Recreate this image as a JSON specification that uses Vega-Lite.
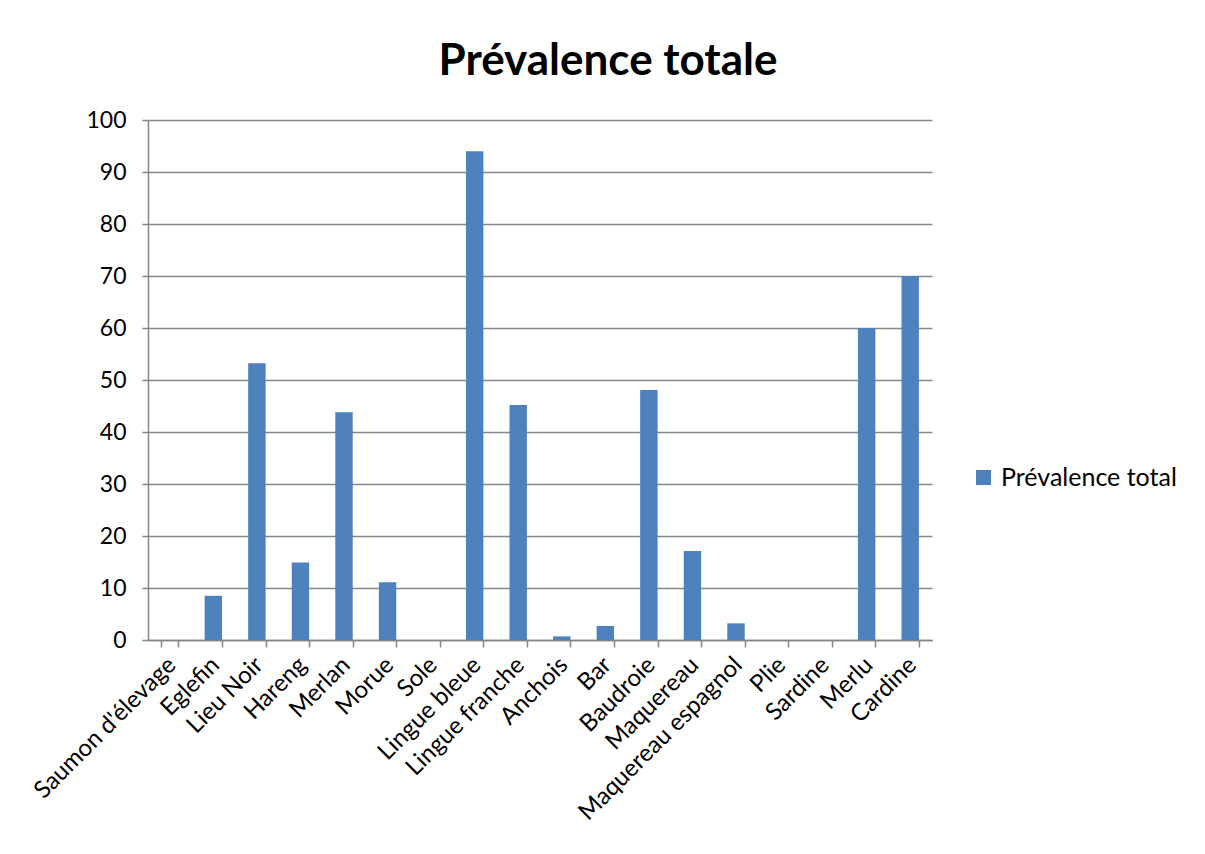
{
  "$schema": "https://vega.github.io/schema/vega-lite/v6.json",
  "width": 784,
  "height": 520,
  "autosize": {"type": "none"},
  "padding": {"left": 148, "top": 120, "right": 273, "bottom": 214},
  "background": "white",
  "title": {
    "text": "Prévalence totale",
    "font": "Lato",
    "fontSize": 44,
    "fontWeight": "bold",
    "color": "#000000",
    "anchor": "middle",
    "dx": 68,
    "offset": 25
  },
  "data": {
    "values": [
      {"espece": "Saumon d'élevage", "prevalence": 0},
      {"espece": "Eglefin", "prevalence": 8.5},
      {"espece": "Lieu Noir", "prevalence": 53.2},
      {"espece": "Hareng", "prevalence": 14.9},
      {"espece": "Merlan", "prevalence": 43.8},
      {"espece": "Morue", "prevalence": 11.1},
      {"espece": "Sole", "prevalence": 0},
      {"espece": "Lingue bleue", "prevalence": 94.0},
      {"espece": "Lingue franche", "prevalence": 45.2},
      {"espece": "Anchois", "prevalence": 0.7},
      {"espece": "Bar", "prevalence": 2.7},
      {"espece": "Baudroie", "prevalence": 48.1},
      {"espece": "Maquereau", "prevalence": 17.1},
      {"espece": "Maquereau espagnol", "prevalence": 3.2},
      {"espece": "Plie", "prevalence": 0},
      {"espece": "Sardine", "prevalence": 0},
      {"espece": "Merlu", "prevalence": 60.0},
      {"espece": "Cardine", "prevalence": 70.0}
    ]
  },
  "mark": {"type": "bar"},
  "encoding": {
    "x": {
      "field": "espece",
      "type": "nominal",
      "sort": null,
      "title": null,
      "scale": {"paddingInner": 0.6, "paddingOuter": 0.3},
      "axis": {
        "labelAngle": -45,
        "labelAlign": "right",
        "labelBaseline": "middle",
        "labelFont": "Lato",
        "labelFontSize": 24,
        "labelColor": "#000000",
        "labelPadding": 14,
        "labelOffset": 2,
        "labelOverlap": false,
        "labelLimit": 400,
        "tickBand": "extent",
        "tickSize": 7,
        "tickColor": "#868686",
        "tickWidth": 1.5,
        "domainColor": "#868686",
        "domainWidth": 1.5,
        "grid": false
      }
    },
    "y": {
      "field": "prevalence",
      "type": "quantitative",
      "title": null,
      "scale": {"domain": [0, 100], "nice": false},
      "axis": {
        "values": [0, 10, 20, 30, 40, 50, 60, 70, 80, 90, 100],
        "labelFont": "Lato",
        "labelFontSize": 23,
        "labelColor": "#000000",
        "labelPadding": 16,
        "tickSize": 6,
        "tickColor": "#868686",
        "tickWidth": 1.5,
        "domainColor": "#868686",
        "domainWidth": 1.5,
        "gridColor": "#868686",
        "gridWidth": 1.5
      }
    },
    "color": {
      "datum": "Prévalence total",
      "type": "nominal",
      "scale": {"range": ["#4F81BD"]},
      "legend": {
        "title": null,
        "orient": "none",
        "legendX": 823,
        "legendY": 345,
        "symbolType": "square",
        "symbolSize": 225,
        "symbolStrokeWidth": 0,
        "labelFont": "Lato",
        "labelFontSize": 25,
        "labelColor": "#000000",
        "labelOffset": 5,
        "labelLimit": 300
      }
    }
  },
  "config": {
    "view": {"stroke": null}
  }
}
